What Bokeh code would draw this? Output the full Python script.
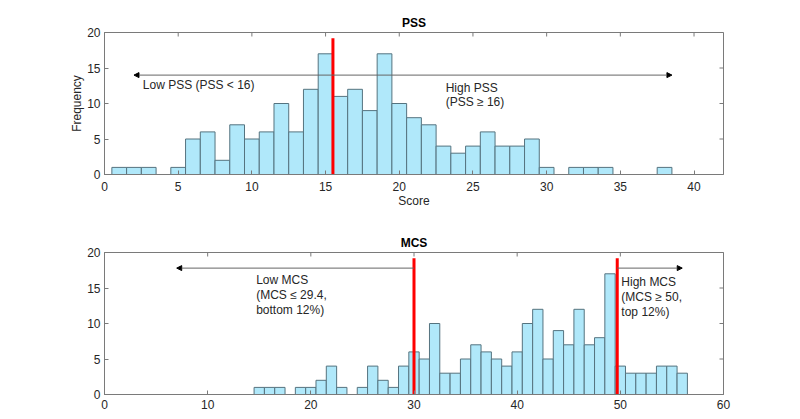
import math
from bokeh.plotting import figure
from bokeh.models import Range1d, FixedTicker, Arrow, NormalHead, Label
from bokeh.layouts import column
from bokeh.embed import file_html
from bokeh.resources import INLINE

# ---------------- data ----------------
pss_bins = list(range(1, 41))
pss_counts = [1, 1, 1, 0, 1, 5, 6, 2, 7, 5, 6, 10, 6, 12, 17, 11, 12, 9, 17, 10,
              8, 7, 4, 3, 4, 6, 4, 4, 5, 1, 0, 1, 1, 1, 0, 0, 0, 1, 0, 0]
pss_cut = 15.5

mcs_bins = list(range(15, 57))
mcs_counts = [1, 1, 1, 0, 1, 1, 2, 4, 1, 0, 1, 4, 2, 1, 4, 6, 5, 10, 3, 3, 5, 7,
              6, 5, 4, 6, 10, 12, 5, 9, 7, 12, 7, 8, 17, 4, 3, 3, 3, 4, 4, 3]
mcs_low_cut = 30.0
mcs_high_cut = 49.7

pss_xticks = [0, 5, 10, 15, 20, 25, 30, 35, 40]
mcs_xticks = [0, 10, 20, 30, 40, 50, 60]
yticks = [0, 5, 10, 15, 20]

FONT = "Liberation Sans"
BAR_FILL = "#B0E8FA"
BAR_LINE = "#55737F"
AX_COLOR = "#7a7a7a"
TXT = "#262626"


def style_axis(ax, standoff=4):
    ax.axis_line_color = AX_COLOR
    ax.major_tick_line_color = AX_COLOR
    ax.major_tick_in = 4
    ax.major_tick_out = 0
    ax.minor_tick_line_color = None
    ax.major_label_text_font = FONT
    ax.major_label_text_color = TXT
    ax.major_label_standoff = standoff
    ax.major_label_text_font_size = "12px"
    ax.axis_label_text_font = FONT
    ax.axis_label_text_font_size = "12px"
    ax.axis_label_text_font_style = "normal"
    ax.axis_label_text_color = TXT


def make_fig(title, tstand, xstand, height, top, bottom, frame_w, xmax, xticks,
             bins, counts):
    p = figure(width=800, height=height, output_backend="svg", toolbar_location=None,
               x_range=Range1d(0, xmax), y_range=Range1d(0, 20),
               min_border_left=104, min_border_right=800 - 104 - frame_w,
               min_border_top=top, min_border_bottom=bottom, title=title)
    p.title.align = "center"
    p.title.text_font = FONT
    p.title.text_font_size = "12px"
    p.title.text_font_style = "bold"
    p.title.text_color = "black"
    p.title.standoff = tstand
    p.xgrid.visible = False
    p.ygrid.visible = False
    p.outline_line_color = AX_COLOR
    p.background_fill_color = "white"
    p.border_fill_color = "white"
    p.xaxis.ticker = FixedTicker(ticks=xticks)
    p.yaxis.ticker = FixedTicker(ticks=yticks)
    style_axis(p.xaxis[0], xstand)
    style_axis(p.yaxis[0], 4)
    left = [b - 0.5 for b in bins]
    rightx = [b + 0.5 for b in bins]
    p.quad(left=left, right=rightx, bottom=0, top=counts,
           fill_color=BAR_FILL, line_color=BAR_LINE, line_width=1)
    # inward tick marks on the top and right edges of the box
    p.scatter(x=xticks, y=[20] * len(xticks), marker="dash", size=8,
              angle=math.pi / 2, line_color=AX_COLOR, line_width=1)
    p.scatter(x=[xmax] * len(yticks), y=yticks, marker="dash", size=8,
              line_color=AX_COLOR, line_width=1)
    return p


def add_text(p, x, y, txt):
    p.add_layout(Label(x=x, y=y, text=txt, text_font=FONT,
                       text_font_size="12px", text_color=TXT,
                       text_align="left", text_baseline="middle"))


def add_arrow(p, x0, x1, y):
    p.add_layout(Arrow(end=NormalHead(size=5, fill_color="black", line_color="black",
                                      line_width=1),
                       x_start=x0, y_start=y, x_end=x1, y_end=y,
                       line_color="#666666", line_width=1))


# ---------------- PSS ----------------
p1 = make_fig("PSS", 6, 7, 212, 32, 38, 620, 42, pss_xticks, pss_bins, pss_counts)
p1.below[0].axis_label = "Score"
p1.below[0].axis_label_standoff = 0
p1.left[0].axis_label = "Frequency"
p1.left[0].axis_label_standoff = 0
add_arrow(p1, pss_cut, 2.0, 14)
add_arrow(p1, pss_cut, 38.5, 14)
p1.segment(x0=[pss_cut], y0=[0], x1=[pss_cut], y1=[19.2], line_color="#FF0000",
           line_width=3)
add_text(p1, 2.6, 12.6, "Low PSS (PSS < 16)")
add_text(p1, 23.15, 12.25, "High PSS")
add_text(p1, 23.15, 10.2, "(PSS \u2265 16)")

# ---------------- MCS ----------------
p2 = make_fig("MCS", 5, 5, 207, 40, 25, 619, 60, mcs_xticks, mcs_bins, mcs_counts)
add_arrow(p2, mcs_low_cut, 7.0, 17.8)
add_arrow(p2, mcs_high_cut, 56.0, 17.8)
p2.segment(x0=[mcs_low_cut, mcs_high_cut], y0=[0, 0], x1=[mcs_low_cut, mcs_high_cut],
           y1=[19.2, 19.2], line_color="#FF0000", line_width=3)
add_text(p2, 14.7, 16.15, "Low MCS")
add_text(p2, 14.7, 14.05, "(MCS \u2264 29.4,")
add_text(p2, 14.7, 11.95, "bottom 12%)")
add_text(p2, 50.1, 15.8, "High MCS")
add_text(p2, 50.1, 13.7, "(MCS \u2265 50,")
add_text(p2, 50.1, 11.6, " top 12%)")

layout = column(p1, p2)
open("out.html", "w").write(file_html(layout, INLINE))
